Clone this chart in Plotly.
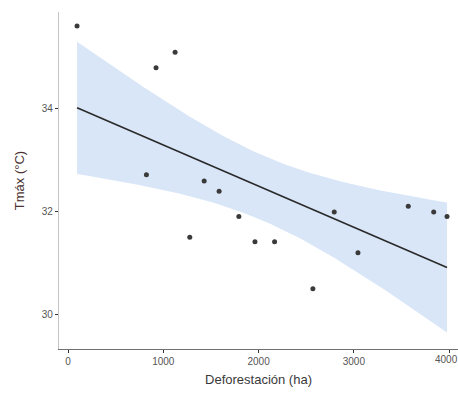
import numpy as np
import plotly.graph_objects as go

# Data
deforestacion = [95, 823, 924, 1124, 1278, 1429, 1586, 1793, 1962, 2168, 2570, 2794, 3043, 3571, 3838, 3978]
tmax = [35.60, 32.71, 34.79, 35.09, 31.50, 32.59, 32.39, 31.90, 31.41, 31.41, 30.50, 31.99, 31.20, 32.10, 31.99, 31.90]
x_ticks = [0, 1000, 2000, 3000, 4000]
y_ticks = [30, 32, 34]

# Linear fit with 95% confidence band (like geom_smooth(method="lm"))
x = np.array(deforestacion, dtype=float)
y = np.array(tmax, dtype=float)
n = len(x)
b1, b0 = np.polyfit(x, y, 1)
resid = y - (b0 + b1 * x)
s = np.sqrt(np.sum(resid ** 2) / (n - 2))
sxx = np.sum((x - x.mean()) ** 2)
t_crit = 2.144786688  # t(0.975, 14)
xg = np.linspace(x.min(), x.max(), 80)
yg = b0 + b1 * xg
se = s * np.sqrt(1.0 / n + (xg - x.mean()) ** 2 / sxx)
upper = yg + t_crit * se
lower = yg - t_crit * se

fig = go.Figure()
fig.add_trace(go.Scatter(x=np.concatenate([xg, xg[::-1]]), y=np.concatenate([upper, lower[::-1]]),
                         fill="toself", fillcolor="#d9e6f7", line=dict(width=0),
                         mode="lines", hoverinfo="skip", showlegend=False))
fig.add_trace(go.Scatter(x=xg, y=yg, mode="lines", line=dict(color="#2a2a2a", width=1.6),
                         showlegend=False))
fig.add_trace(go.Scatter(x=deforestacion, y=tmax, mode="markers",
                         marker=dict(color="#3a3a3a", size=5), showlegend=False))

tick_font = dict(family="Liberation Sans, Arial, sans-serif", size=10, color="#555")

# The last tick label sits at the right edge; nudge it so it stays fully visible
fig.add_annotation(x=x_ticks[-1], xref="x", y=0, yref="paper", yanchor="top",
                   yshift=-4, xshift=-3, text=str(x_ticks[-1]), showarrow=False, font=tick_font,
                   borderpad=0)

fig.update_layout(
    width=458, height=393,
    margin=dict(l=59, r=0, t=12, b=44),
    paper_bgcolor="white", plot_bgcolor="white",
    font=dict(family="Liberation Sans, Arial, sans-serif", color="#444"),
    showlegend=False,
)
fig.update_xaxes(range=[-94.5, 4093], tickvals=x_ticks, ticks="outside", ticklen=3,
                 tickcolor="#333", tickfont=tick_font,
                 showgrid=False, zeroline=False, showline=True, linecolor="#707070", linewidth=1.3,
                 title=dict(text="Deforestación (ha)", font=dict(size=13, color="#3a3a3a"), standoff=8))
fig.update_yaxes(range=[29.33, 35.87], tickvals=y_ticks, ticks="outside", ticklen=3,
                 tickcolor="#333", tickfont=tick_font,
                 showgrid=False, zeroline=False, showline=True, linecolor="#c4c4c4", linewidth=1.3,
                 title=dict(text="Tmáx (°C)", font=dict(size=13, color="#4a3232"), standoff=14))

fig.write_html("out.html")
